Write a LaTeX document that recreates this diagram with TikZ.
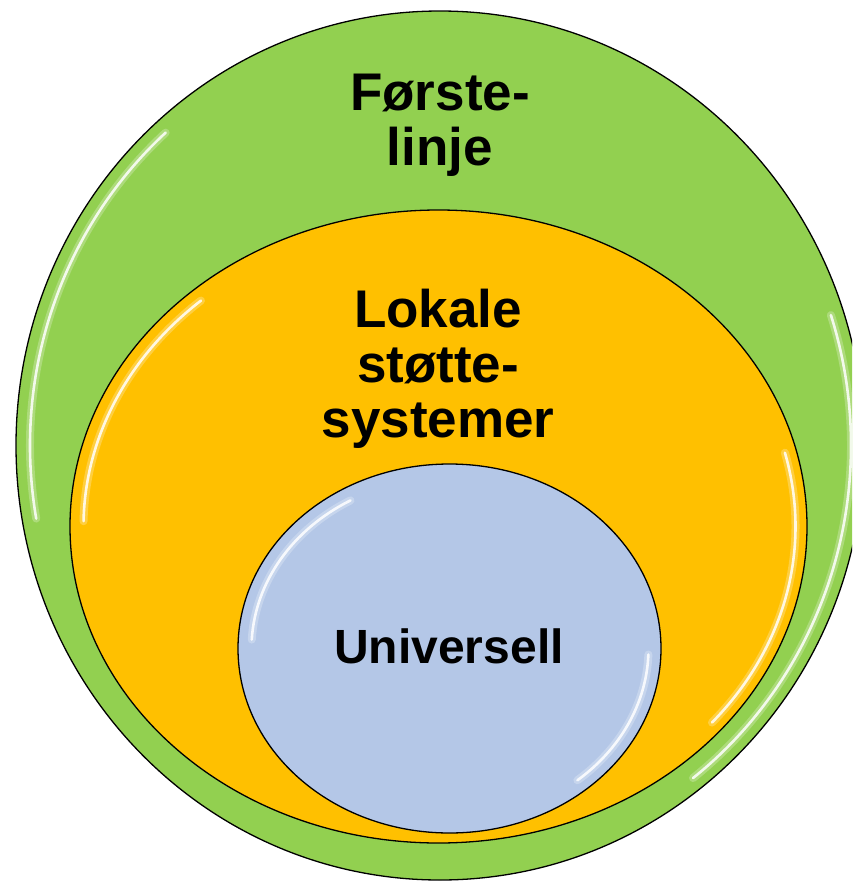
\documentclass[tikz,border=0pt]{standalone}
\usepackage{fontspec}
\setmainfont{Liberation Sans}
\usetikzlibrary{shapes.geometric}
\definecolor{grn}{HTML}{92D050}
\definecolor{org}{HTML}{FFC000}
\definecolor{blu}{HTML}{B4C7E7}
\begin{document}
\begin{tikzpicture}[x=1pt,y=-1pt,
  ring/.style={ellipse, draw=black, line width=1.3pt, inner sep=0pt, outer sep=0pt},
  lbl/.style={font=\fontsize{53}{55}\selectfont\bfseries, align=center, inner sep=0pt, anchor=base},
  shine/.style={white, line width=2.6pt, opacity=0.85, line cap=round},
  glow/.style={white, line width=8pt, opacity=0.25, line cap=round}]
\useasboundingbox (0,0) rectangle (852,881);
\fill[white] (0,0) rectangle (852,881);
\begin{scope}
\clip (0,0) rectangle (852,881);
% outer
\node[ring, fill=grn, minimum width=848pt, minimum height=869pt] (outer) at (440,445.5) {};
\draw[glow] (outer.center) ++(170:410 and 421) arc[start angle=170, end angle=228, x radius=410, y radius=421];
\draw[shine] (outer.center) ++(170:410 and 421) arc[start angle=170, end angle=228, x radius=410, y radius=421];
\draw[glow] (outer.center) ++(-18:411 and 422) arc[start angle=-18, end angle=52, x radius=411, y radius=422];
\draw[shine] (outer.center) ++(-18:411 and 422) arc[start angle=-18, end angle=52, x radius=411, y radius=422];
% middle
\node[ring, fill=org, minimum width=737pt, minimum height=633pt] (mid) at (438.5,526.5) {};
\draw[glow] (mid.center) ++(181:355 and 304) arc[start angle=181, end angle=228, x radius=355, y radius=304];
\draw[shine] (mid.center) ++(181:355 and 304) arc[start angle=181, end angle=228, x radius=355, y radius=304];
\draw[glow] (mid.center) ++(-14:357 and 305) arc[start angle=-14, end angle=40, x radius=357, y radius=305];
\draw[shine] (mid.center) ++(-14:357 and 305) arc[start angle=-14, end angle=40, x radius=357, y radius=305];
% inner
\node[ring, fill=blu, minimum width=423pt, minimum height=369pt] (inner) at (449.5,648.5) {};
\draw[glow] (inner.center) ++(183:198 and 171) arc[start angle=183, end angle=240, x radius=198, y radius=171];
\draw[shine] (inner.center) ++(183:198 and 171) arc[start angle=183, end angle=240, x radius=198, y radius=171];
\draw[glow] (inner.center) ++(2:199 and 172) arc[start angle=2, end angle=50, x radius=199, y radius=172];
\draw[shine] (inner.center) ++(2:199 and 172) arc[start angle=2, end angle=50, x radius=199, y radius=172];
\end{scope}
% labels
\node[lbl] (t1) at (440,165) {Første-\\linje};
\node[lbl] (t2) at (438,437) {Lokale\\støtte-\\systemer};
\node[lbl, font=\fontsize{48}{50}\selectfont\bfseries] (t3) at (449,663) {Universell};
\end{tikzpicture}
\end{document}
